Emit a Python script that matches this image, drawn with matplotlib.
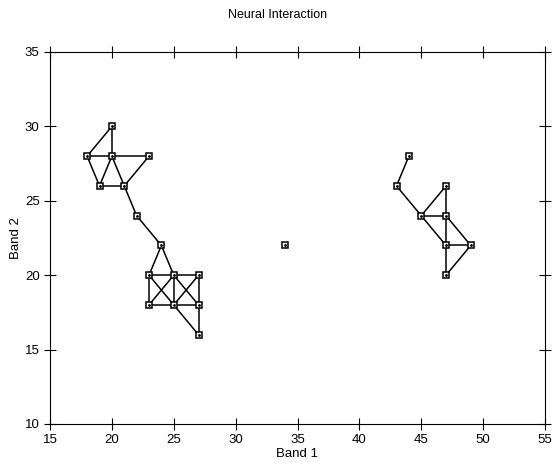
import matplotlib
matplotlib.use("Agg")
from matplotlib import pyplot as plt

plt.rcParams['font.family'] = ['Liberation Sans', 'DejaVu Sans']

# node coordinates
node_x = [20, 18, 20, 23, 19, 21, 22, 24,
          23, 25, 27, 23, 25, 27, 27,
          34,
          44, 43, 47, 45, 47, 47, 49, 47]
node_y = [30, 28, 28, 28, 26, 26, 24, 22,
          20, 20, 20, 18, 18, 18, 16,
          22,
          28, 26, 26, 24, 24, 22, 22, 20]

# edges as pairs of node indices
edges = [(0, 1), (0, 2), (1, 2), (2, 3), (1, 4), (2, 4), (2, 5), (3, 5),
         (4, 5), (5, 6), (6, 7),
         (7, 8), (7, 9), (8, 9), (9, 10), (8, 11), (11, 12), (12, 13),
         (9, 12), (10, 13), (8, 12), (9, 11), (9, 13), (10, 12),
         (12, 14), (13, 14),
         (16, 17), (17, 19), (19, 18), (19, 20), (19, 21), (18, 20),
         (20, 21), (21, 23), (20, 22), (21, 22), (22, 23)]

fig = plt.figure(figsize=(5.55, 4.66), dpi=100)
ax = fig.add_axes([50 / 555, 42 / 466, 495 / 555, 372 / 466])

for a, b in edges:
    ax.plot([node_x[a], node_x[b]], [node_y[a], node_y[b]], color='black', lw=1.1)

ax.plot(node_x, node_y, 's', ls='none', ms=5, mfc='white', mec='black', mew=1.1)
ax.plot(node_x, node_y, '.', ls='none', ms=2, color='black')

ax.set_xlim(15, 55)
ax.set_ylim(10, 35)
ax.set_xticks(range(15, 56, 5))
ax.set_yticks(range(10, 36, 5))
ax.tick_params(direction='inout', length=8, width=0.8, labelsize=9.5,
               top=True, right=True)
ax.set_xlabel('Band 1', fontsize=9.5, labelpad=1)
ax.set_ylabel('Band 2', fontsize=9.5, labelpad=2)
fig.text(0.5, 1 - 15 / 466, 'Neural Interaction', ha='center', va='center', fontsize=9)

fig.savefig('out.png', dpi=100)
